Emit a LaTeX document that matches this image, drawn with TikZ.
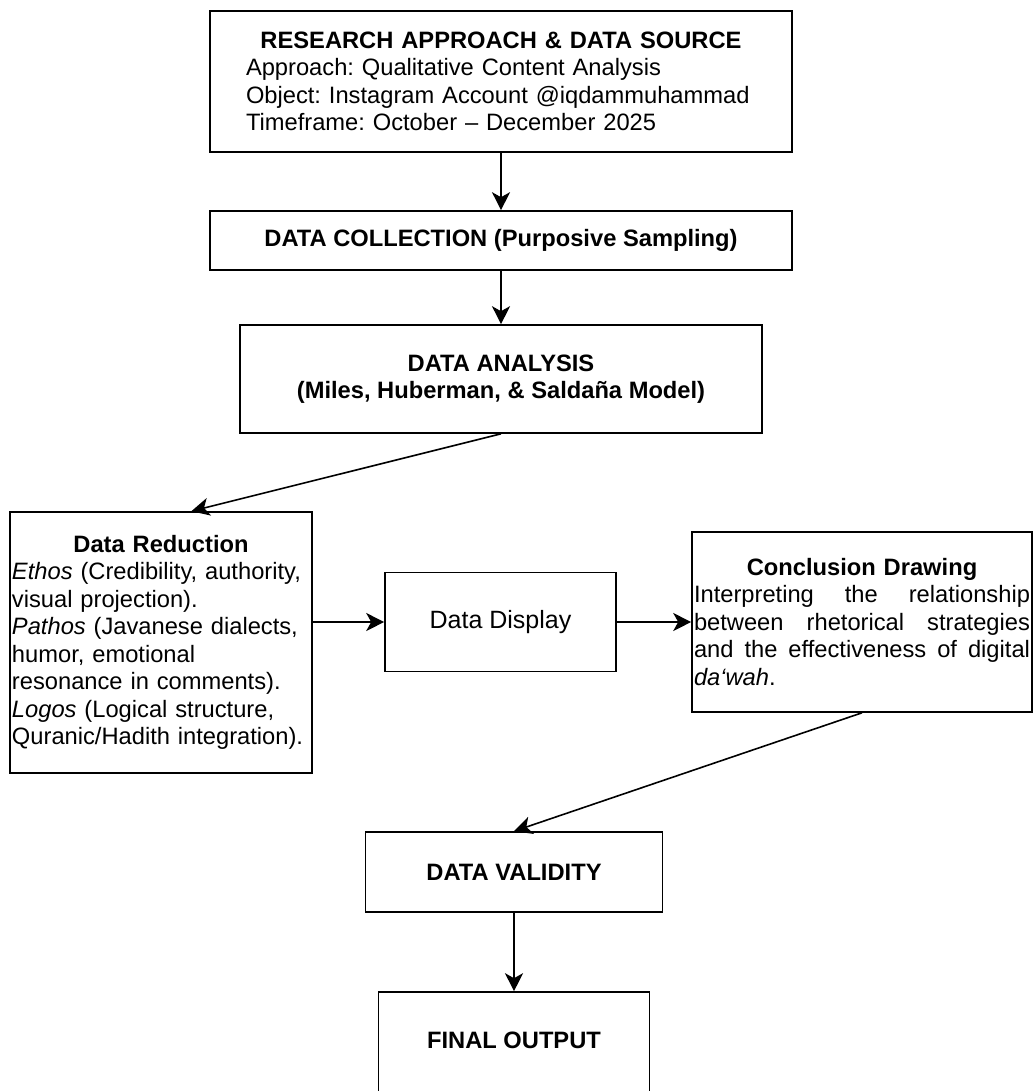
\documentclass[tikz,border=0pt]{standalone}
\usepackage{fontspec}
\setmainfont{Liberation Sans}
\usetikzlibrary{arrows.meta,calc}
\frenchspacing
\newcommand{\bxfont}{\fontsize{23.7}{27.5}\selectfont}
\newcommand{\jline}[1]{\makebox[336pt][l]{#1}}
\begin{document}
\begin{tikzpicture}[x=1pt,y=-1pt,
  box/.style={draw,line width=1.6pt,inner sep=0pt,font=\bxfont},
  arr/.style={line width=1.6pt,-{Stealth[length=18pt,width=18pt,inset=5pt]}}]
\useasboundingbox (0,0) rectangle (1035,1091);
\node (src) [box,minimum width=582pt,minimum height=141pt,text width=510pt,align=left] at (501,81.5)
  {\makebox[510pt]{\bfseries RESEARCH APPROACH \& DATA SOURCE}\\
   Approach: Qualitative Content Analysis\\
   Object: Instagram Account @iqdammuhammad\\
   Timeframe: October -- December 2025};
\node (coll) [box,font=\bxfont\bfseries,minimum width=582pt,minimum height=59pt] at (501,240.5)
  {DATA COLLECTION (Purposive Sampling)};
\node (anal) [box,font=\bxfont\bfseries,minimum width=522pt,minimum height=108pt,align=center] at (501,379)
  {DATA ANALYSIS\\ (Miles, Huberman, \& Saldaña Model)};
\node (red) [box,minimum width=302pt,minimum height=261pt,text width=298pt,align=left] at (161,642.5)
  {\makebox[298pt]{\bfseries Data Reduction}\\
   \textit{Ethos} (Credibility, authority,\\
   visual projection).\\
   \textit{Pathos} (Javanese dialects,\\
   humor, emotional\\
   resonance in comments).\\
   \textit{Logos} (Logical structure,\\
   Quranic/Hadith integration).};
\node (disp) [box,font=\fontsize{25}{29}\selectfont,minimum width=231pt,minimum height=99pt] at (500.5,622) {Data Display};
\node (concl) [box,minimum width=340pt,minimum height=180pt,text width=336pt,align=left] at (862,622)
  {\makebox[336pt]{\bfseries Conclusion Drawing}\\
   \jline{Interpreting\hfill the\hfill relationship}\\
   \jline{between\hfill rhetorical\hfill strategies}\\
   \jline{and\hfill the\hfill effectiveness\hfill of\hfill digital}\\
   \textit{da‘wah}.};
\node (valid) [box,font=\bxfont\bfseries,minimum width=297pt,minimum height=80pt] at (514,872) {DATA VALIDITY};
\node (out) [box,font=\bxfont\bfseries,minimum width=271pt,minimum height=120pt,text depth=24pt] at (514,1052) {FINAL OUTPUT};
\draw[arr] (src) -- (coll);
\draw[arr] (coll) -- (anal);
\draw[arr] (anal.south) -- ($(red.north west)!.6!(red.north east)$);
\draw[arr] (red.east |- disp.west) -- (disp.west);
\draw[arr] (disp) -- (concl);
\draw[arr] (concl.south) -- (valid.north);
\draw[arr] (valid) -- (out);
\end{tikzpicture}
\end{document}
